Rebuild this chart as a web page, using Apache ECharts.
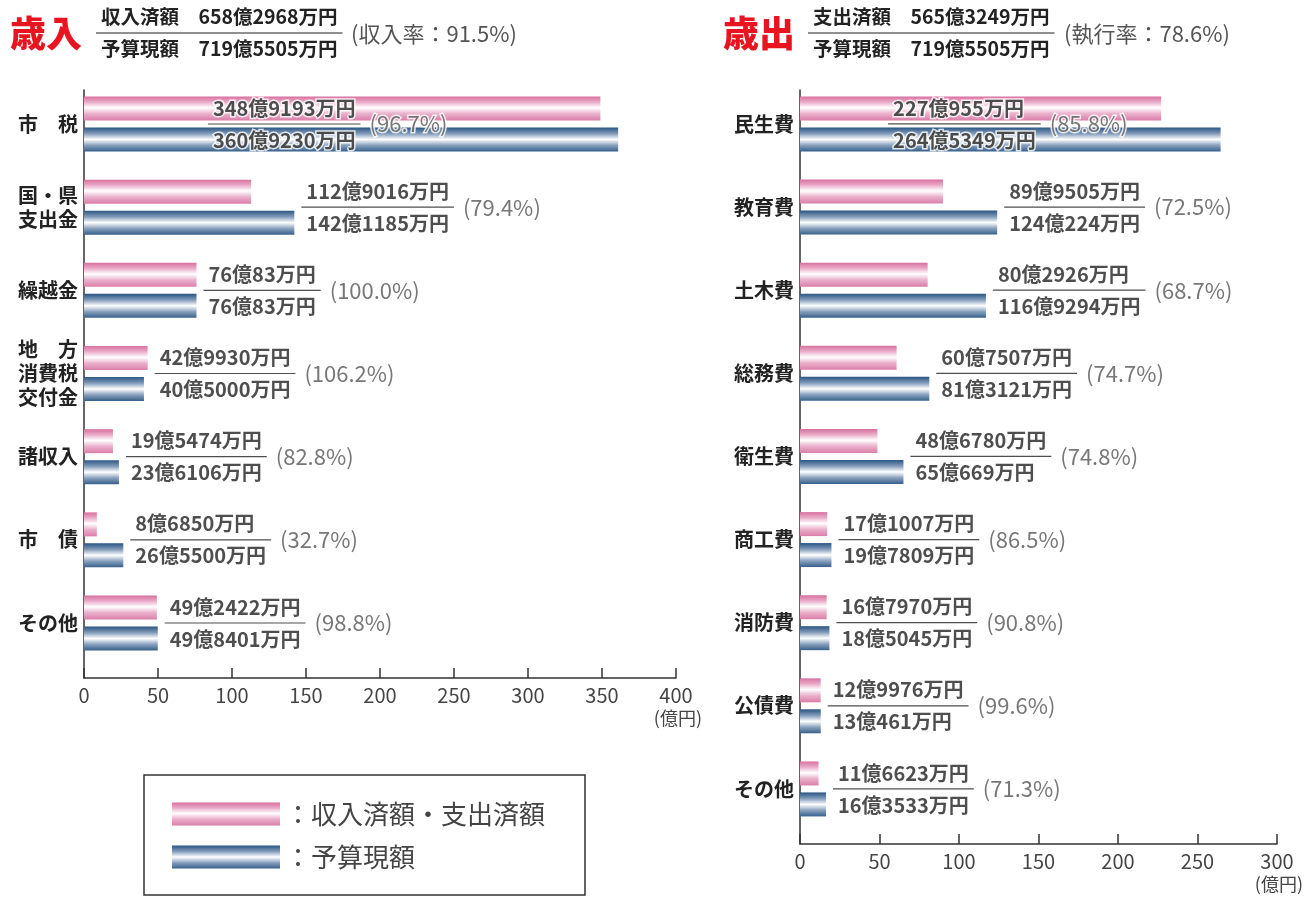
<!DOCTYPE html>
<html><head><meta charset="utf-8">
<script src="https://cdn.jsdelivr.net/npm/echarts@6/dist/echarts.min.js"></script>
<style>html,body{margin:0;padding:0;background:#fff}#c{width:1307px;height:899px}</style>
</head><body><div id="c"></div>
<script>
// ---- data ----
const seriesNames = ['収入済額・支出済額', '予算現額'];

const revHeader = ['歳入', '収入済額', '658億2968万円', '予算現額', '719億5505万円', '収入率', '91.5%'];
const revCats = ['市　税', '国・県\n支出金', '繰越金', '地　方\n消費税\n交付金', '諸収入', '市　債', 'その他'];
const revActual = [348.9193, 112.9016, 76.0083, 42.9930, 19.5474, 8.6850, 49.2422];
const revBudget = [360.9230, 142.1185, 76.0083, 40.5000, 23.6106, 26.5500, 49.8401];
const revActualText = ['348億9193万円', '112億9016万円', '76億83万円', '42億9930万円', '19億5474万円', '8億6850万円', '49億2422万円'];
const revBudgetText = ['360億9230万円', '142億1185万円', '76億83万円', '40億5000万円', '23億6106万円', '26億5500万円', '49億8401万円'];
const revRate = ['96.7%', '79.4%', '100.0%', '106.2%', '82.8%', '32.7%', '98.8%'];
const revAxisMax = 400;

const expHeader = ['歳出', '支出済額', '565億3249万円', '予算現額', '719億5505万円', '執行率', '78.6%'];
const expCats = ['民生費', '教育費', '土木費', '総務費', '衛生費', '商工費', '消防費', '公債費', 'その他'];
const expActual = [227.0955, 89.9505, 80.2926, 60.7507, 48.6780, 17.1007, 16.7970, 12.9976, 11.6623];
const expBudget = [264.5349, 124.0224, 116.9294, 81.3121, 65.0669, 19.7809, 18.5045, 13.0461, 16.3533];
const expActualText = ['227億955万円', '89億9505万円', '80億2926万円', '60億7507万円', '48億6780万円', '17億1007万円', '16億7970万円', '12億9976万円', '11億6623万円'];
const expBudgetText = ['264億5349万円', '124億224万円', '116億9294万円', '81億3121万円', '65億669万円', '19億7809万円', '18億5045万円', '13億461万円', '16億3533万円'];
const expRate = ['85.8%', '72.5%', '68.7%', '74.7%', '74.8%', '86.5%', '90.8%', '99.6%', '71.3%'];
const expAxisMax = 300;

const axisInterval = 50;
const unitName = '(億円)';

// ---- styles ----
const FF = '"Noto Sans CJK JP", "Noto Sans", sans-serif';
const VAL_FS = 20, PCT_FS = 22, TPAD = 5, LABEL_DIST = 7, PCT_GAP = 9;
const cv = document.createElement('canvas').getContext('2d');
function tw(t, font) { cv.font = font; return cv.measureText(t).width; }

const pinkGrad = new echarts.graphic.LinearGradient(0, 0, 0, 1, [
  { offset: 0, color: '#d8719f' }, { offset: 0.22, color: '#e9a7c5' },
  { offset: 0.47, color: '#ffffff' }, { offset: 0.72, color: '#eab0cb' }, { offset: 1, color: '#db7ea8' }
]);
const blueGrad = new echarts.graphic.LinearGradient(0, 0, 0, 1, [
  { offset: 0, color: '#2a5582' }, { offset: 0.25, color: '#7f99b8' },
  { offset: 0.5, color: '#ffffff' }, { offset: 0.75, color: '#869fbc' }, { offset: 1, color: '#37608b' }
]);

const richVals = {
  t: { fontSize: VAL_FS, fontWeight: 'bold', color: '#222', lineHeight: 28, padding: [0, TPAD],
       fontFamily: FF, textBorderColor: '#fff', textBorderWidth: 3 },
  hr: { width: '100%', height: 0, borderWidth: 1.2, borderColor: '#222', lineHeight: 4 }
};

function buildChart(gi, cats, actual, budget, aText, bText, rate, axisMax, insideAnchor, gridBars, gridAxes) {
  const grids = [gridBars, gridAxes];
  const xAxes = [
    { type: 'value', gridIndex: gi, min: 0, max: axisMax, show: false },
    { type: 'value', gridIndex: gi + 1, min: 0, max: axisMax, interval: axisInterval,
      axisLine: { show: true, lineStyle: { color: '#333', width: 1.5 } },
      axisTick: { show: true, inside: true, length: 10, lineStyle: { color: '#333', width: 1.5 } },
      axisLabel: { fontSize: 20, color: '#444', margin: 7, fontFamily: FF },
      splitLine: { show: false },
      name: unitName, nameLocation: 'end', nameGap: 26, nameMoveOverlap: false,
      nameTextStyle: { fontSize: 18, color: '#444', align: 'right', verticalAlign: 'top', padding: [31, 0, 0, 0], fontFamily: FF } }
  ];
  const yAxes = [
    { type: 'category', gridIndex: gi, data: cats, inverse: true,
      axisLine: { show: false }, axisTick: { show: false },
      axisLabel: { fontSize: 20, fontWeight: 'bold', color: '#222', margin: 6, lineHeight: 24, fontFamily: FF } },
    { type: 'value', gridIndex: gi + 1, min: 0, max: 1,
      axisLine: { show: true, lineStyle: { color: '#333', width: 1.5 } },
      axisTick: { show: false }, axisLabel: { show: false }, splitLine: { show: false } }
  ];
  const vFont = 'bold ' + VAL_FS + 'px ' + FF;
  const fracData = [], pctData = [];
  cats.forEach((c, i) => {
    const m = Math.max(actual[i], budget[i]);
    const anchor = m > 200 ? insideAnchor : m;
    const bw = Math.max(tw(aText[i], vFont), tw(bText[i], vFont)) + 2 * TPAD;
    fracData.push({ value: [anchor, i] });
    pctData.push({ value: [anchor, i], label: { distance: LABEL_DIST + bw + PCT_GAP } });
  });
  const series = [
    { name: seriesNames[0], type: 'bar', xAxisIndex: gi, yAxisIndex: gi, data: actual,
      barWidth: 24, barGap: '29%', itemStyle: { color: pinkGrad }, silent: true },
    { name: seriesNames[1], type: 'bar', xAxisIndex: gi, yAxisIndex: gi, data: budget,
      barWidth: 24, barGap: '29%', itemStyle: { color: blueGrad }, silent: true },
    { type: 'scatter', xAxisIndex: gi, yAxisIndex: gi, data: fracData, symbolSize: 0, z: 10, silent: true,
      label: { show: true, position: 'right', distance: LABEL_DIST,
        formatter: p => '{t|' + aText[p.dataIndex] + '}\n{hr|}\n{t|' + bText[p.dataIndex] + '}',
        rich: richVals } },
    { type: 'scatter', xAxisIndex: gi, yAxisIndex: gi, data: pctData, symbolSize: 0, z: 10, silent: true,
      label: { show: true, position: 'right', fontSize: PCT_FS, color: '#555', fontFamily: FF,
        textBorderColor: '#fff', textBorderWidth: 3,
        formatter: p => '(' + rate[p.dataIndex] + ')' } }
  ];
  return { grids, xAxes, yAxes, series };
}

const L = buildChart(0, revCats, revActual, revBudget, revActualText, revBudgetText, revRate, revAxisMax, 79,
  { left: 84, width: 592, top: 82.4, height: 582.2 },
  { left: 84, width: 592, top: 90, height: 588 });
const R = buildChart(2, expCats, expActual, expBudget, expActualText, expBudgetText, expRate, expAxisMax, 51,
  { left: 800, width: 477, top: 82.4, height: 748.1 },
  { left: 800, width: 477, top: 90, height: 754 });

function header(h, x0, xFrac, xPct) {
  return [
    { text: h[0], left: x0, top: 13, padding: 0,
      textStyle: { fontSize: 36, fontWeight: 900, color: '#e8141f', lineHeight: 40, fontFamily: FF } },
    { text: '{t|' + h[1] + '　' + h[2] + '}\n{hr|}\n{t|' + h[3] + '　' + h[4] + '}', left: xFrac, top: 3, padding: 0,
      textStyle: { rich: {
        t: { fontSize: 19.5, fontWeight: 'bold', color: '#222', lineHeight: 28, padding: [0, 5], fontFamily: FF },
        hr: { width: '100%', height: 0, borderWidth: 1.2, borderColor: '#222', lineHeight: 4 } } } },
    { text: '(' + h[5] + '：' + h[6] + ')', left: xPct, top: 21, padding: 0,
      textStyle: { fontSize: 22, fontWeight: 'normal', color: '#555', lineHeight: 26, fontFamily: FF } }
  ];
}

const grids = [...L.grids, ...R.grids].map(g => Object.assign({ containLabel: false, outerBoundsMode: 'none' }, g));

const option = {
  animation: false,
  backgroundColor: '#fff',
  textStyle: { fontFamily: FF },
  title: [...header(revHeader, 10, 96, 351), ...header(expHeader, 723, 808, 1064)],
  legend: {
    left: 144, top: 775, height: 140, orient: 'vertical', data: seriesNames, icon: 'rect',
    itemWidth: 108, itemHeight: 23, itemGap: 17, selectedMode: false,
    formatter: n => '：' + n,
    textStyle: { fontSize: 26, lineHeight: 23, color: '#444', fontFamily: FF },
    borderColor: '#333', borderWidth: 1.5, padding: [26, 40, 25, 28]
  },
  grid: grids,
  xAxis: [...L.xAxes, ...R.xAxes],
  yAxis: [...L.yAxes, ...R.yAxes],
  series: [...L.series, ...R.series]
};
const chart = echarts.init(document.getElementById('c'), null, { renderer: 'canvas' });
chart.setOption(option);
</script>
</body></html>
